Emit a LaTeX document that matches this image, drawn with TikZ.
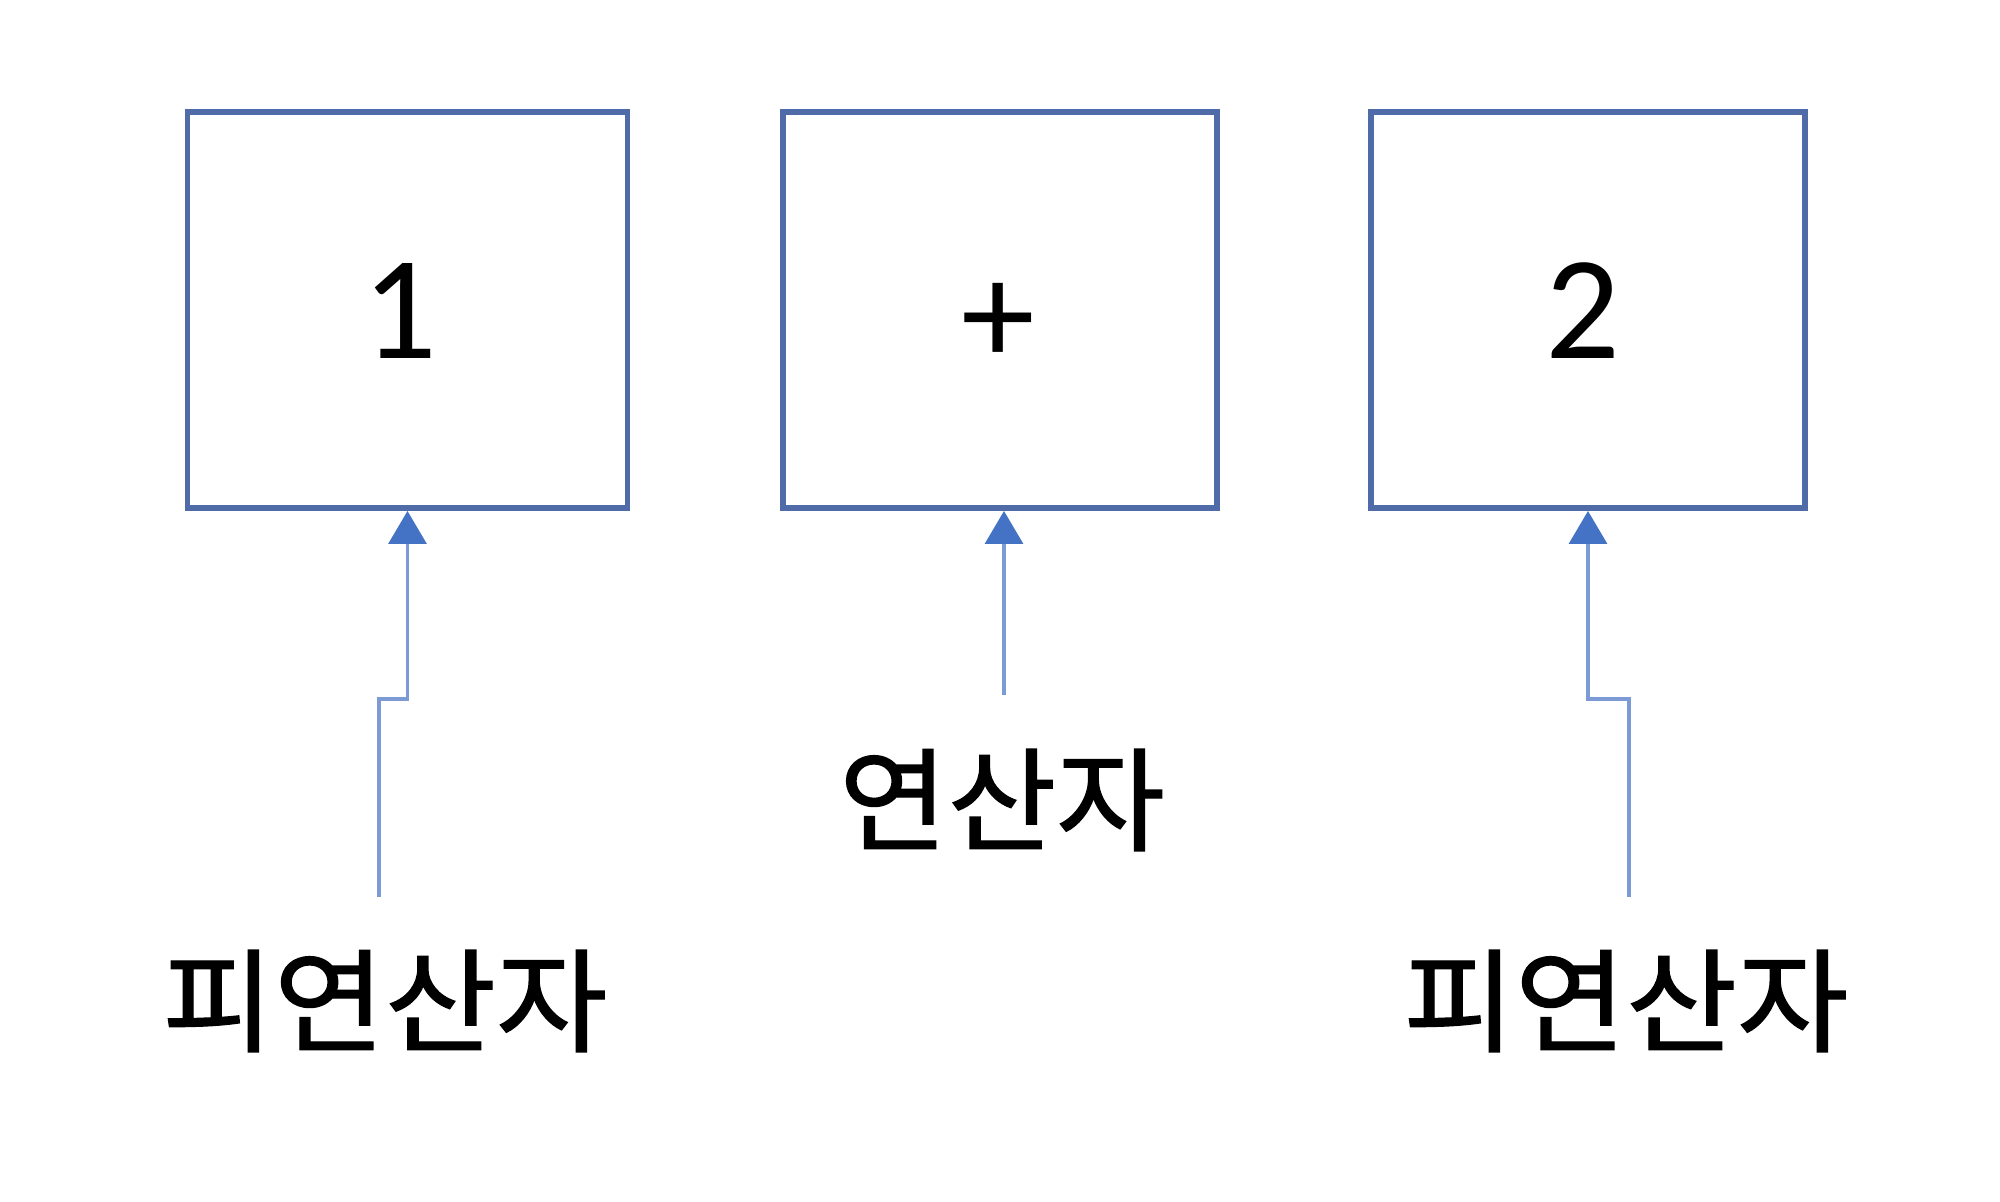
\documentclass[tikz,border=0pt]{standalone}
\usepackage{fontspec}
\setmainfont{Carlito}
\newfontfamily\kr[RawFeature={embolden=1.2}]{Noto Sans CJK KR}
\usetikzlibrary{arrows.meta}
\definecolor{boxc}{HTML}{4F6BA8}
\definecolor{arrc}{HTML}{4472C4}
\definecolor{linec}{HTML}{7C9AD6}
\tikzset{
  valbox/.style={draw=boxc, line width=1.7pt, minimum height=3.96cm, inner sep=0pt},
  digit/.style={font=\fontsize{42}{42}\selectfont, inner sep=0pt},
  lbl/.style={font=\kr\fontsize{32}{32}\selectfont, inner sep=0pt},
  arr/.style={draw=linec, line width=0.9pt, -{Triangle[width=0.38cm,length=0.33cm,color=arrc]}}
}
\newcommand{\wide}[1]{\scalebox{1.075}[1]{#1}}
\begin{document}
\begin{tikzpicture}
\useasboundingbox (0,0) rectangle (20,12.02);
\node[valbox, minimum width=4.40cm] (b1) at (4.075,8.92) {};
\node[valbox, minimum width=4.34cm] (b2) at (10.0,8.92) {};
\node[valbox, minimum width=4.34cm] (b3) at (15.88,8.92) {};
\node[digit] (t1) at (4.00,8.91) {1};
\node[digit] (t2) at (9.98,8.78) {+};
\node[digit] (t3) at (15.83,8.91) {2};
\node[lbl] (l1) at (3.85,2.01) {\wide{피연산자}};
\node[lbl] (l2) at (10.02,4.02) {\scalebox{1.05}[1]{연산자}};
\node[lbl] (l3) at (16.26,2.01) {\wide{피연산자}};
\coordinate (s1) at (3.79,3.05);
\coordinate (s2) at (10.04,5.07);
\coordinate (s3) at (16.29,3.05);
\draw[arr] (s1) -- ++(0,1.98) -| (b1.south);
\draw[arr] (s2) -- (s2 |- b2.south);
\draw[arr] (s3) -- ++(0,1.98) -| (b3.south);
\end{tikzpicture}
\end{document}
